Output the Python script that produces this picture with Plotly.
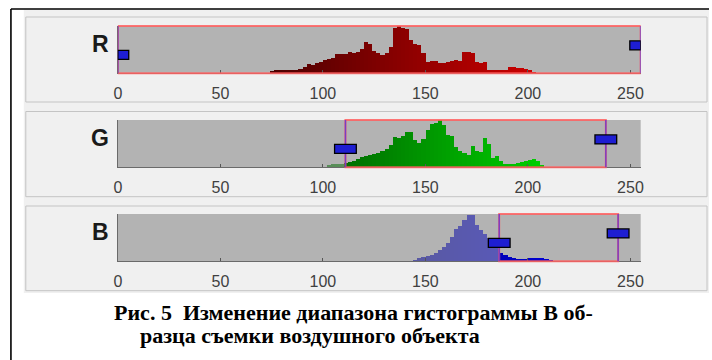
import numpy as np
import plotly.graph_objects as go

# ---- data -------------------------------------------------------------
CHANNELS = ["R", "G", "B"]
BIN_WIDTH = 2
TICKS = [0, 50, 100, 150, 200, 250]

# histogram heights (percent of the tallest bin), one value per 2-level bin
R_BIN_START = 75
R_COUNTS = [4, 8, 7, 6, 8, 6, 7, 9, 14, 20, 18, 22, 24, 29, 31, 33, 40, 41, 40,
            44, 43, 44, 52, 67, 62, 48, 42, 39, 42, 56, 96, 100, 96, 94, 70, 61,
            59, 42, 23, 25, 25, 22, 22, 24, 27, 28, 25, 44, 45, 42, 24, 22, 24,
            7, 6, 8, 8, 8, 13, 14, 12, 11, 10, 8, 3]
G_BIN_START = 103
G_COUNTS = [5, 6, 6, 6, 9, 12, 13, 17, 21, 23, 27, 28, 30, 35, 38, 48, 64, 62,
            66, 74, 74, 58, 52, 60, 78, 92, 94, 99, 90, 68, 67, 42, 35, 30, 26,
            46, 35, 32, 63, 50, 20, 24, 13, 7, 7, 7, 9, 11, 13, 16, 17, 14, 4]
B_BIN_START = 145
B_COUNTS = [3, 6, 9, 12, 14, 18, 24, 30, 38, 52, 68, 74, 88, 98, 97, 76, 66, 58,
            50, 48, 47, 18, 14, 10, 6, 4, 4, 5, 7, 8, 8, 7, 5, 1]

# selected intensity window for every channel
R_RANGE = (0, 255)
G_RANGE = (111, 238)
B_RANGE = (186, 244)
HANDLE_LEVELS = (39, 59)   # low / high handle height, percent of axis

CAPTION = ["Рис.\u00a05\u00a0\u00a0Изменение диапазона гистограммы B об-",
           "разца съемки воздушного объекта"]

# ---- geometry (pixels in a 712 x 360 page) ----------------------------
W, H = 712, 360
AX_X = (115, 643)
AX_Y = [(26, 73.3), (120, 167.3), (214, 261.3)]
PANEL_Y = [(17, 102), (111.5, 196.7), (206, 290.7)]
HANDLE_HALF_W = 5.3      # in intensity units
HANDLE_HALF_H = 9.5      # in percent units


def px(x):
    return x / W


def py(y):
    return 1 - y / H


hist = [(R_BIN_START, R_COUNTS, R_RANGE),
        (G_BIN_START, G_COUNTS, G_RANGE),
        (B_BIN_START, B_COUNTS, B_RANGE)]

fig = go.Figure()
shapes = []
annotations = []
layout = {}

# light grey window area and the black outer frame lines
shapes.append(dict(type="rect", xref="paper", yref="paper", layer="below",
                   x0=px(20), x1=1, y0=py(293), y1=py(9.5),
                   fillcolor="#f0f0f0", line=dict(width=0)))
shapes.append(dict(type="line", xref="paper", yref="paper",
                   x0=px(7), x1=1, y0=py(9), y1=py(9),
                   line=dict(color="black", width=1.6)))
shapes.append(dict(type="line", xref="paper", yref="paper",
                   x0=px(7), x1=px(7), y0=py(9), y1=0,
                   line=dict(color="black", width=1.6)))

for i, (name, (start, counts, (lo, hi))) in enumerate(zip(CHANNELS, hist)):
    n = "" if i == 0 else str(i + 1)
    xa, ya = "x" + n, "y" + n
    centers = np.arange(len(counts)) * BIN_WIDTH + start
    colors = []
    for c in centers:
        rgb = [0, 0, 0]
        rgb[i] = int(c)
        inside = lo <= c <= hi
        alpha = 1.0 if inside else 0.5
        colors.append(f"rgba({rgb[0]},{rgb[1]},{rgb[2]},{alpha})")
    fig.add_trace(go.Bar(x=centers, y=counts, width=BIN_WIDTH,
                         marker=dict(color=colors, line=dict(width=0)),
                         xaxis=xa, yaxis=ya, showlegend=False,
                         hoverinfo="skip"))

    y_top, y_bot = AX_Y[i]
    layout["xaxis" + n] = dict(
        domain=[px(AX_X[0]), px(AX_X[1])], anchor=ya, range=[0, 255],
        tickvals=TICKS, ticks="inside", ticklen=3, tickcolor="#555555",
        showline=True, linecolor="#6a6a6a", linewidth=1, showgrid=False,
        zeroline=False, ticklabelstandoff=5,
        tickfont=dict(family="Liberation Sans", size=16, color="#404040"))
    layout["yaxis" + n] = dict(
        domain=[py(y_bot), py(y_top)], anchor=xa, range=[0, 100],
        showticklabels=False, ticks="", showline=True, linecolor="#6a6a6a",
        linewidth=1, showgrid=False, zeroline=False)

    # panel frame
    p0, p1 = PANEL_Y[i]
    shapes.append(dict(type="rect", xref="paper", yref="paper", layer="below",
                       x0=px(22), x1=px(710), y0=py(p1), y1=py(p0),
                       fillcolor="#f0f0f0",
                       line=dict(color="#c4c4c4", width=1)))

    # grey histogram area
    shapes.append(dict(type="rect", xref=xa + " domain", yref=ya + " domain",
                       layer="below", x0=0, x1=1, y0=0, y1=1,
                       fillcolor="#b3b3b3", line=dict(width=0)))

    # selected window
    shapes.append(dict(type="rect", xref=xa, yref=ya + " domain",
                       x0=lo, x1=hi, y0=0, y1=1,
                       line=dict(color="rgba(255,95,95,0.85)", width=2)))
    for v in (lo, hi):
        shapes.append(dict(type="line", xref=xa, yref=ya + " domain",
                           x0=v, x1=v, y0=0, y1=1,
                           line=dict(color="#7a3cc4", width=1.5)))
    for v, lvl in zip((lo, hi), HANDLE_LEVELS):
        shapes.append(dict(type="rect", xref=xa, yref=ya,
                           x0=max(v - HANDLE_HALF_W, 0),
                           x1=min(v + HANDLE_HALF_W, 255),
                           y0=lvl - HANDLE_HALF_H, y1=lvl + HANDLE_HALF_H,
                           fillcolor="#1e1ed2",
                           line=dict(color="black", width=1.3)))

    annotations.append(dict(text=name, xref=xa + " domain", yref=ya + " domain",
                            x=0, y=0.62, xanchor="right", yanchor="middle",
                            xshift=-7, showarrow=False,
                            font=dict(family="Liberation Sans", size=23,
                                      color="#1a1a1a", weight="bold")))

for line_text, x0, yc in zip(CAPTION, (109, 135), (312, 335)):
    annotations.append(dict(text=line_text, xref="paper", yref="paper",
                            x=px(x0), y=py(yc), xanchor="left",
                            yanchor="middle", showarrow=False,
                            font=dict(family="Liberation Serif", size=22,
                                      color="black", weight="bold")))

fig.update_layout(
    width=W, height=H, margin=dict(l=0, r=0, t=0, b=0),
    paper_bgcolor="white", plot_bgcolor="#b3b3b3",
    bargap=0, barmode="overlay",
    shapes=shapes, annotations=annotations, **layout)

fig.write_html("out.html")
